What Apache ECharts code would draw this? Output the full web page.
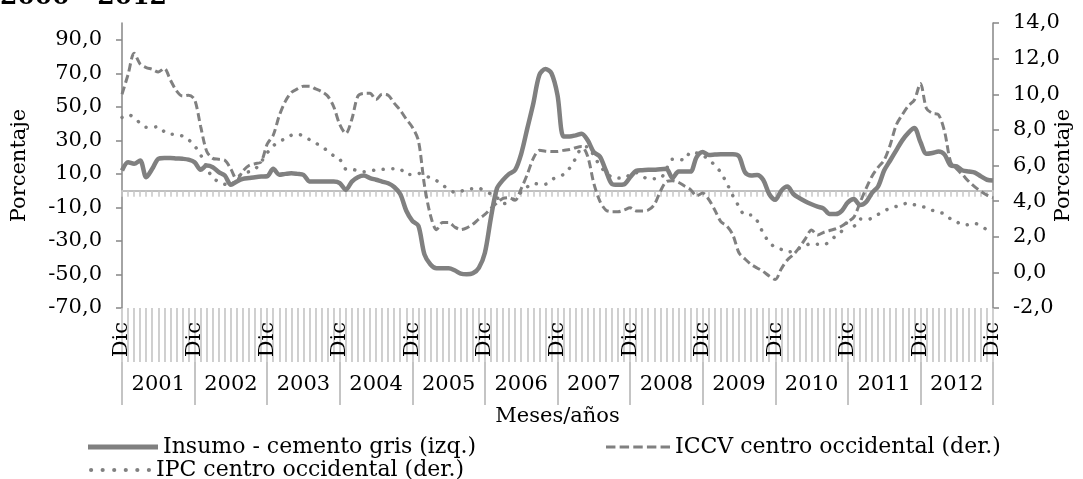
<!DOCTYPE html>
<html>
<head>
<meta charset="utf-8">
<script src="https://cdn.jsdelivr.net/npm/echarts@6/dist/echarts.min.js"></script>
<style>
  html, body { margin: 0; padding: 0; background: #fff; }
  #chart { width: 1083px; height: 479px; }
</style>
</head>
<body>
<div id="chart"></div>
<script>
// meses y años del eje (Dic 2000 ... Dic 2012)
const meses = ['Ene', 'Feb', 'Mar', 'Abr', 'May', 'Jun', 'Jul', 'Ago', 'Sep', 'Oct', 'Nov', 'Dic']
const anios = [2001, 2002, 2003, 2004, 2005, 2006, 2007, 2008, 2009, 2010, 2011, 2012]

// ticks de los ejes
const ticksIzq = [-70, -50, -30, -10, 10, 30, 50, 70, 90]
const ticksDer = [-2, 0, 2, 4, 6, 8, 10, 12, 14]

// Insumo - cemento gris (izq.)
const cemento = [
  12,
  17, 16, 18, 8, 13, 19, 19.5, 19.5, 19.2, 19, 18.5, 17,
  12.5, 15, 14, 11, 9, 3.5, 5.5, 7, 7.5, 8, 8.4, 8.6,
  13, 9.5, 10, 10.4, 10, 9.4, 5.5, 5.4, 5.4, 5.4, 5.4, 4.5,
  0.5, 5.4, 8, 9, 7.5, 6.5, 5.4, 4.4, 2.2, -2, -12, -18,
  -21, -38, -44, -46.3, -46.3, -46.3, -47.5, -49.5, -49.9, -49.3, -46, -37,
  -16, 1.4, 6.4, 10, 12.4, 22, 37, 52, 69, 72.5, 70, 57,
  32.3, 32.3, 33, 34, 30, 23, 20.4, 12, 4, 3.5, 3.8, 8,
  11.8, 12.2, 12.4, 12.5, 12.8, 13, 7.5, 11.4, 11.4, 11.4, 20, 23,
  21.3, 21.5, 21.7, 21.7, 21.7, 20.5, 11, 9, 9.4, 6.5, -2, -5.5,
  0, 2.4, -2, -4.5, -6.5, -8.1, -9.5, -10.7, -14, -14, -12, -7,
  -5, -8.5, -6.8, -1.3, 2.5, 12, 18, 24, 30, 34.5, 37.3, 29,
  22, 22.5, 23.3, 21.5, 15, 14.5, 12, 11.4, 10.8, 8.5, 6.5, 6
]

// ICCV centro occidental (der.)
const iccv = [
  10,
  11.1, 12.3, 11.7, 11.5, 11.4, 11.25, 11.45, 10.8, 10.2, 9.9, 9.95, 9.7,
  8.2, 6.8, 6.4, 6.35, 6.3, 5.8, 5.2, 5.7, 6.0, 6.1, 6.2, 7.2,
  7.7, 8.8, 9.6, 10.1, 10.3, 10.45, 10.45, 10.3, 10.15, 9.9, 9.3, 8.3,
  7.8, 8.6, 9.9, 10.05, 10.05, 9.7, 10.0, 9.95, 9.5, 9.1, 8.6, 8.15,
  7.4, 4.9, 3.2, 2.4, 2.8, 2.8, 2.55, 2.4, 2.5, 2.7, 3.0, 3.25,
  3.6, 3.9, 4.15, 4.2, 4.05, 4.7, 5.5, 6.4, 6.85, 6.8, 6.78, 6.78,
  6.85, 6.9, 7.0, 7.06, 6.5, 5.0, 4.0, 3.5, 3.41, 3.41, 3.5, 3.63,
  3.45, 3.45, 3.5, 3.8, 4.55, 5.1, 5.15, 5.05, 4.85, 4.65, 4.3, 4.45,
  4.1, 3.5, 2.85, 2.6, 2.1, 1.1, 0.75, 0.45, 0.25, 0.05, -0.2, -0.4,
  0.2, 0.7, 1.0, 1.4, 1.9, 2.38, 2.1, 2.25, 2.35, 2.45, 2.6, 2.84,
  3.1, 3.9, 4.7, 5.4, 5.9, 6.3, 7.15, 8.27, 8.85, 9.35, 9.68, 10.6,
  9.2, 8.93, 8.85, 7.9, 6.2, 5.8, 5.47, 5.1, 4.8, 4.55, 4.34, 4.2
]

// IPC centro occidental (der.)
const ipc = [
  8.7,
  8.85, 8.7, 8.37, 8.15, 8.15, 8.18, 7.9, 7.75, 7.75, 7.65, 7.45, 7.1,
  6.6, 5.9, 5.3, 5.1, 4.95, 4.9, 5.3, 5.56, 5.65, 5.8, 6.2, 6.7,
  7.1, 7.35, 7.5, 7.7, 7.75, 7.66, 7.45, 7.25, 7.1, 6.8, 6.55, 6.35,
  5.8, 5.79, 5.7, 5.65, 5.7, 5.75, 5.78, 5.8, 5.82, 5.8, 5.5, 5.5,
  5.56, 5.45, 5.3, 5.15, 4.9, 4.68, 4.5, 4.55, 4.68, 4.7, 4.72, 4.55,
  4.4, 4.2, 3.85, 3.95, 4.16, 4.5, 4.8, 5.0, 4.95, 4.95, 5.2, 5.35,
  5.5, 5.85, 6.4, 7.0, 7.05, 6.55, 6.0, 5.6, 5.35, 5.3, 5.28, 5.5,
  5.6, 5.4, 5.25, 5.26, 5.28, 5.8, 6.35, 6.35, 6.3, 6.75, 6.7, 6.6,
  6.3, 6.03, 5.6, 5.0, 4.3, 3.7, 3.22, 3.22, 2.9, 2.2, 1.7, 1.4,
  1.29, 1.15, 1.2, 1.35, 1.5, 1.63, 1.58, 1.54, 1.75, 2.05, 2.32, 2.81,
  2.6, 3.0, 2.95, 3.05, 3.25, 3.45, 3.6, 3.7, 3.8, 3.9, 3.8, 3.72,
  3.63, 3.48, 3.38, 3.28, 3.0, 2.84, 2.65, 2.68, 2.75, 2.6, 2.4, 2.3
]

const categorias = ['Dic 2000']
anios.forEach(a => meses.forEach(m => categorias.push(m + ' ' + a)))

const fuente = '"DejaVu Serif", serif'
const gris = '#808080'
const coma = v => Number(v).toFixed(1).replace('.', ',')

// iconos de la leyenda
const iconoRayas = 'path://M0 0h9v3h-9zM13 0h9v3h-9zM26 0h9v3h-9zM39 0h9v3h-9zM52 0h9v3h-9z'
const iconoPuntos = 'path://M0 2a2 2 0 1 0 4 0a2 2 0 1 0 -4 0zM11 2a2 2 0 1 0 4 0a2 2 0 1 0 -4 0z' +
  'M22 2a2 2 0 1 0 4 0a2 2 0 1 0 -4 0zM33 2a2 2 0 1 0 4 0a2 2 0 1 0 -4 0z' +
  'M44 2a2 2 0 1 0 4 0a2 2 0 1 0 -4 0zM55 2a2 2 0 1 0 4 0a2 2 0 1 0 -4 0z'

const leyendaTexto = { fontFamily: fuente, fontSize: 22, color: '#000' }

let chart = echarts.init(document.getElementById('chart'))

let option = {
  animation: false,
  textStyle: { fontFamily: fuente, color: '#000' },
  graphic: [
    {
      type: 'text', x: 0, y: 10,
      style: { text: '2000 - 2012', font: 'bold 25px ' + fuente, fill: '#000', verticalAlign: 'bottom' }
    }
  ],
  grid: { left: 122, right: 90, top: 23, bottom: 171, containLabel: false, outerBoundsMode: 'none' },
  legend: [
    {
      data: [{ name: 'Insumo - cemento gris (izq.)', icon: 'rect' }], left: 88, top: 436, padding: 0,
      itemWidth: 70, itemHeight: 5, symbolKeepAspect: false, textStyle: leyendaTexto
    },
    {
      data: [{ name: 'ICCV centro occidental (der.)', icon: iconoRayas }], left: 606, top: 436, padding: 0,
      itemWidth: 64, itemHeight: 3, symbolKeepAspect: false, textStyle: leyendaTexto
    },
    {
      data: [{ name: 'IPC centro occidental (der.)', icon: iconoPuntos }], left: 89, top: 459, padding: 0,
      itemWidth: 62, itemHeight: 4, symbolKeepAspect: false, textStyle: leyendaTexto
    }
  ],
  xAxis: [
    {
      // nivel de meses: lineas y etiqueta "Dic"
      type: 'category', data: categorias, boundaryGap: false, position: 'bottom',
      axisLine: { show: false, onZero: false },
      axisTick: { show: true, interval: 0, length: 54, lineStyle: { color: '#c4c4c4', width: 1.6 } },
      axisLabel: {
        interval: 0, rotate: 90, margin: 14, fontFamily: fuente, fontSize: 21, color: '#000',
        formatter: v => v.startsWith('Dic') ? 'Dic' : ''
      },
      splitLine: { show: false }
    },
    {
      // nivel de años
      type: 'category', data: categorias, boundaryGap: false, position: 'bottom', offset: 54,
      axisLine: { show: false, onZero: false },
      axisTick: { show: true, interval: idx => idx % 12 === 0, length: 43, lineStyle: { color: '#c4c4c4', width: 2 } },
      axisLabel: {
        interval: 0, margin: 12, fontFamily: fuente, fontSize: 21, color: '#000',
        formatter: (v, idx) => idx % 12 === 6 ? v.split(' ')[1] : ''
      },
      name: 'Meses/años', nameLocation: 'middle', nameGap: 44, nameMoveOverlap: false,
      nameTextStyle: { fontFamily: fuente, fontSize: 21, color: '#000' },
      splitLine: { show: false }
    },
    {
      // linea del cero
      type: 'category', data: categorias, boundaryGap: false, position: 'bottom',
      axisLine: { show: true, onZero: true, onZeroAxisIndex: 0, lineStyle: { color: '#c0c0c0', width: 2 } },
      axisTick: { show: true, interval: 0, length: 6, lineStyle: { color: '#c8c8c8', width: 1.5 } },
      axisLabel: { show: false },
      splitLine: { show: false }
    }
  ],
  yAxis: [
    {
      type: 'value', min: -70, max: 100, position: 'left',
      axisLine: { show: true, lineStyle: { color: '#868686', width: 1.5 } },
      axisTick: { show: true, length: 6, customValues: ticksIzq, lineStyle: { color: '#868686', width: 1.5 } },
      axisLabel: {
        customValues: ticksIzq, margin: 20, fontFamily: fuente, fontSize: 21, color: '#000',
        formatter: v => coma(v)
      },
      splitLine: { show: false },
      name: 'Porcentaje', nameLocation: 'middle', nameRotate: 90, nameGap: 92, nameMoveOverlap: false,
      nameTextStyle: { fontFamily: fuente, fontSize: 21, color: '#000' }
    },
    {
      type: 'value', min: -2, max: 14, interval: 2, position: 'right',
      axisLine: { show: true, lineStyle: { color: '#868686', width: 1.5 } },
      axisTick: { show: true, length: 6, customValues: ticksDer, lineStyle: { color: '#868686', width: 1.5 } },
      axisLabel: {
        customValues: ticksDer, margin: 20, fontFamily: fuente, fontSize: 21, color: '#000',
        formatter: v => coma(v)
      },
      splitLine: { show: false },
      name: 'Porcentaje', nameLocation: 'middle', nameRotate: 90, nameGap: 60, nameMoveOverlap: false,
      nameTextStyle: { fontFamily: fuente, fontSize: 21, color: '#000' }
    }
  ],
  series: [
    {
      name: 'Insumo - cemento gris (izq.)', type: 'line', data: cemento,
      xAxisIndex: 0, yAxisIndex: 0, smooth: 0.3, symbol: 'none',
      lineStyle: { color: gris, width: 4.5, type: 'solid' },
      itemStyle: { color: gris }
    },
    {
      name: 'ICCV centro occidental (der.)', type: 'line', data: iccv,
      xAxisIndex: 0, yAxisIndex: 1, smooth: 0.3, symbol: 'none',
      lineStyle: { color: gris, width: 3, type: [8, 4] },
      itemStyle: { color: gris }
    },
    {
      name: 'IPC centro occidental (der.)', type: 'line', data: ipc,
      xAxisIndex: 0, yAxisIndex: 1, smooth: 0.3, symbol: 'none',
      lineStyle: { color: gris, width: 3.5, type: [0.1, 9.5], cap: 'round' },
      itemStyle: { color: gris }
    }
  ]
}
chart.setOption(option)
</script>
</body>
</html>
